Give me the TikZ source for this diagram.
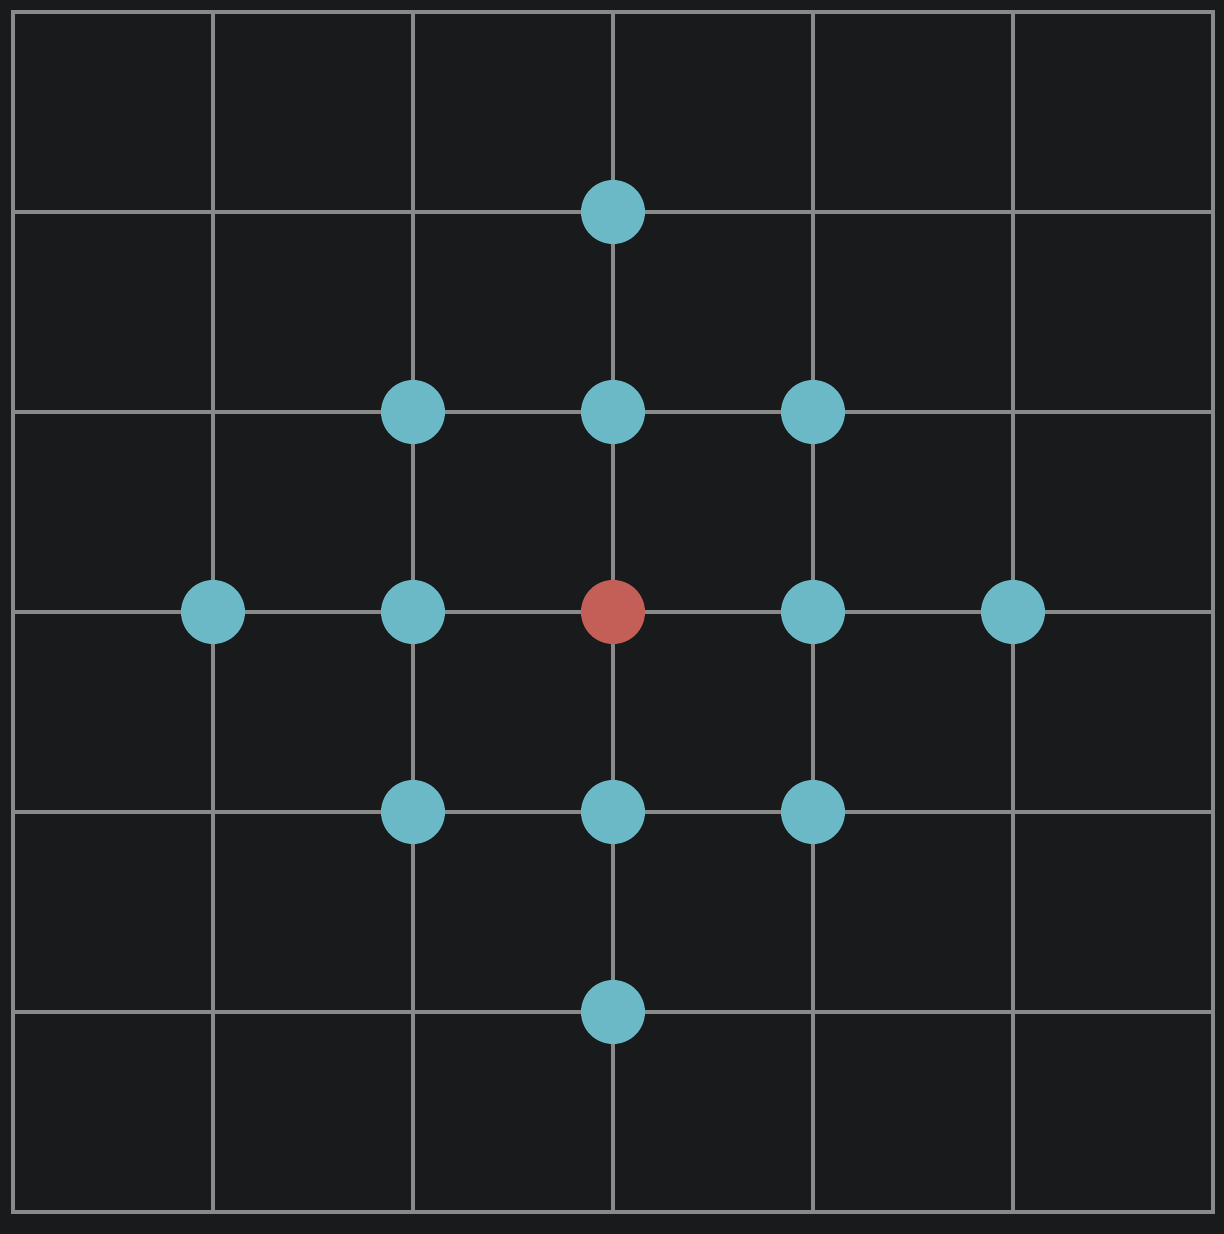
\documentclass[tikz,border=0pt]{standalone}
\usepackage{xcolor}
\definecolor{boardBg}  {RGB}{ 25,  26,  28}
\definecolor{boardLine}{RGB}{138, 138, 138}
\definecolor{reachDot} {RGB}{107, 184, 198}
\definecolor{startDot} {RGB}{196,  95,  88}
\usepackage{tikz}
\usetikzlibrary{positioning}

\begin{document}
\begin{tikzpicture}[
  x=2cm, y=2cm,
  gridline/.style={draw=boardLine, line width=1.1pt},
  dot/.style={circle, fill=reachDot, inner sep=0pt, minimum size=0.64cm},
  origin/.style={dot, fill=startDot},
]
  % Background
  \fill[boardBg] (-0.065,-0.11) rectangle (6.055,6.06);
  \useasboundingbox (-0.065,-0.11) rectangle (6.055,6.06);

  % Board grid
  \foreach \k in {0,...,6} {
    \draw[gridline] (\k,0) -- (\k,6);
    \draw[gridline] (0,\k) -- (6,\k);
  }
  \draw[gridline] (0,0) rectangle (6,6);

  % Reachable cells (within two steps)
  \foreach \i in {1,...,5} {
    \foreach \j in {1,...,5} {
      \pgfmathtruncatemacro{\dist}{abs(\i-3)+abs(\j-3)}
      \ifnum\dist>0 \ifnum\dist<3
        \node[dot] (p-\i-\j) at (\i,\j) {};
      \fi\fi
    }
  }

  % Start cell
  \node[origin] (start) at (3,3) {};

\end{tikzpicture}
\end{document}
